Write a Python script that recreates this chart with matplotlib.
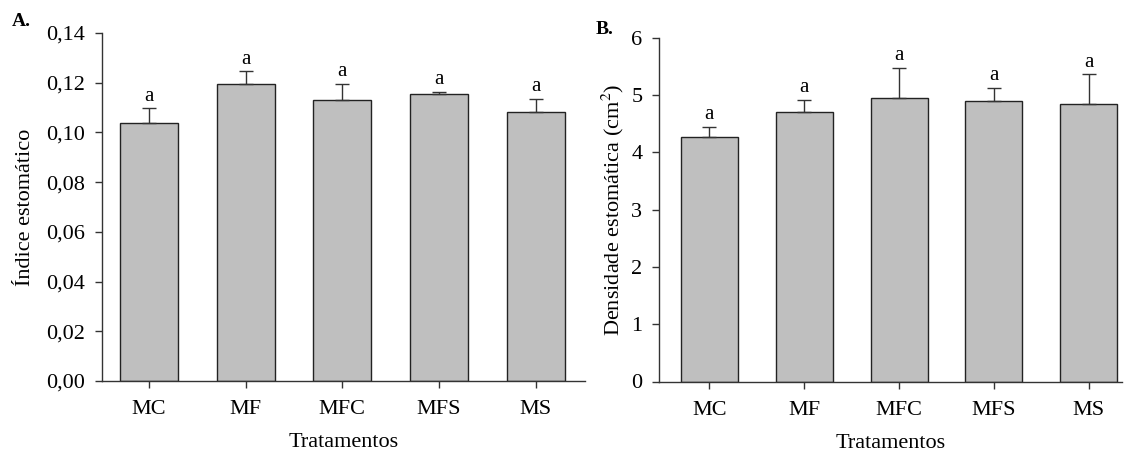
import matplotlib
matplotlib.use("Agg")
import matplotlib.pyplot as plt
from matplotlib.ticker import FuncFormatter

categories = ["MC", "MF", "MFC", "MFS", "MS"]
indice_mean = [0.1039, 0.1193, 0.1129, 0.1153, 0.1083]
indice_err = [0.0058, 0.0053, 0.0067, 0.0011, 0.0051]
densidade_mean = [4.27, 4.71, 4.94, 4.90, 4.84]
densidade_err = [0.17, 0.20, 0.53, 0.23, 0.52]
letters_a = ["a", "a", "a", "a", "a"]
letters_b = ["a", "a", "a", "a", "a"]

plt.rcParams['font.family'] = ['Liberation Serif', 'DejaVu Serif']
plt.rcParams['mathtext.fontset'] = 'stix'

W, H = 1132, 457
fig = plt.figure(figsize=(W / 100, H / 100), dpi=100)

def px_axes(x0, x1, ybot, ytop):
    return fig.add_axes([x0 / W, (H - ybot) / H, (x1 - x0) / W, (ybot - ytop) / H])

axA = px_axes(101.5, 585, 381, 33)
axB = px_axes(659, 1122, 381.5, 37.7)

spine_col = "#333333"
bar_col = "#bfbfbf"
TFS = 16
LFS = 16

def style(ax, xlim, ylim, yticks, fmt):
    x = list(range(len(categories)))
    ax.set_xlim(*xlim)
    ax.set_ylim(*ylim)
    ax.set_xticks(x)
    ax.set_xticklabels(categories, fontsize=TFS)
    ax.set_yticks(yticks)
    ax.yaxis.set_major_formatter(FuncFormatter(fmt))
    for s in ["top", "right"]:
        ax.spines[s].set_visible(False)
    for s in ["left", "bottom"]:
        ax.spines[s].set_color(spine_col)
        ax.spines[s].set_linewidth(1.0)
    ax.tick_params(axis="both", direction="out", length=5, width=1.0,
                   color=spine_col, labelsize=TFS)
    ax.tick_params(axis="x", pad=9)
    ax.tick_params(axis="y", pad=7)
    ax.set_xlabel("Tratamentos", fontsize=LFS, labelpad=10)

def draw(ax, means, errs, letters):
    x = list(range(len(categories)))
    ax.bar(x, means, width=0.6, color=bar_col, edgecolor="#222222",
           linewidth=1.0, zorder=2)
    ax.errorbar(x, means, yerr=[[0] * len(errs), errs], fmt="none",
                ecolor="#333333", elinewidth=1.0, capsize=5, capthick=1.0,
                zorder=3)
    for xi, m, e, t in zip(x, means, errs, letters):
        ax.annotate(t, (xi, m + e), xytext=(0, 2), textcoords="offset points",
                    ha="center", va="bottom", fontsize=15)

draw(axA, indice_mean, indice_err, letters_a)
style(axA, (-0.49, 4.51), (0, 0.14), [0, 0.02, 0.04, 0.06, 0.08, 0.10, 0.12, 0.14],
      lambda v, p: f"{v:.2f}".replace(".", ","))
axA.set_ylabel("Índice estomático", fontsize=LFS, labelpad=8)

draw(axB, densidade_mean, densidade_err, letters_b)
style(axB, (-0.53, 4.35), (0, 6), [0, 1, 2, 3, 4, 5, 6],
      lambda v, p: f"{v:.0f}")
axB.set_ylabel("Densidade estomática (cm$^2$)", fontsize=LFS, labelpad=4)

fig.text(12 / W, 1 - 21 / H, "A.", fontsize=14, fontweight="bold", ha="left", va="center")
fig.text(596 / W, 1 - 29 / H, "B.", fontsize=14, fontweight="bold", ha="left", va="center")

fig.savefig("out.png", dpi=100, facecolor="white")
